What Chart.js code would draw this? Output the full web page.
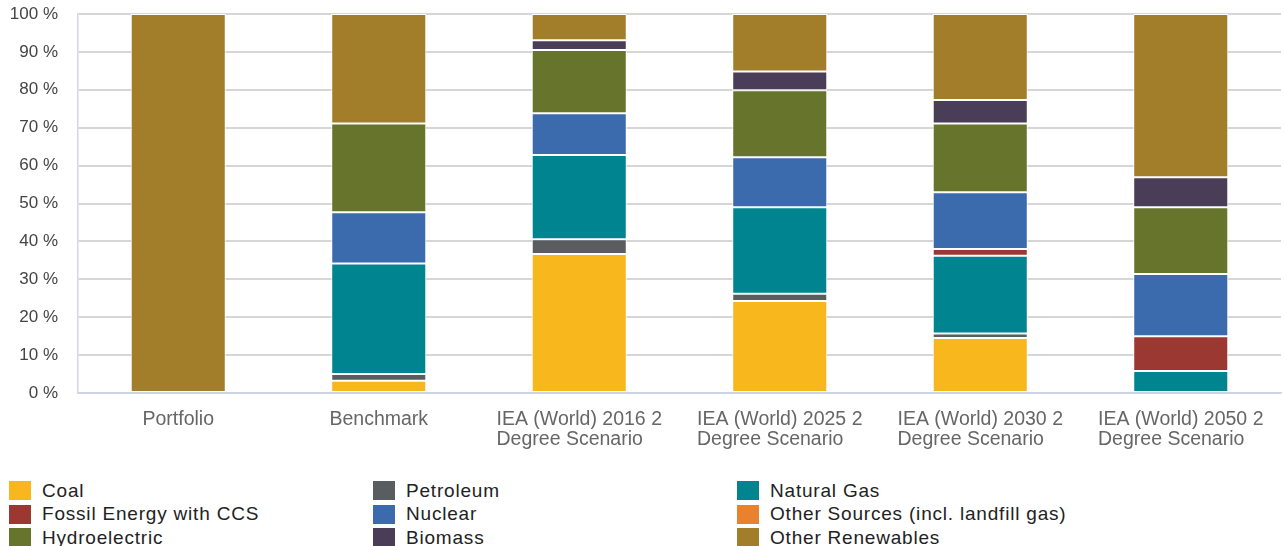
<!DOCTYPE html>
<html>
<head>
<meta charset="utf-8">
<script src="https://cdn.jsdelivr.net/npm/chart.js@4/dist/chart.umd.min.js"></script>
<style>
  html, body { margin: 0; padding: 0; background: #fff; }
  #wrap { position: relative; width: 1284px; height: 546px; overflow: hidden; }
  #chartBox { position: absolute; left: 0; top: 0; width: 1284px; height: 470px; }
  #legend { position: absolute; left: 9px; top: 481px; width: 1275px;
    display: grid; grid-template-columns: 364px 364px 400px; row-gap: 4px;
    font-family: "Liberation Sans", Arial, sans-serif; font-size: 19px; color: #222; letter-spacing: 0.8px; }
  .item { display: flex; align-items: center; height: 19.5px; }
  .sw { width: 22px; height: 19px; margin-right: 11px; flex: none; }
</style>
</head>
<body>
<div id="wrap">
  <div id="chartBox"><canvas id="c"></canvas></div>
  <div id="legend"></div>
</div>
<script>
const categories = ["Portfolio", "Benchmark", ["IEA (World) 2016 2", "Degree Scenario"], ["IEA (World) 2025 2", "Degree Scenario"], ["IEA (World) 2030 2", "Degree Scenario"], ["IEA (World) 2050 2", "Degree Scenario"]];
const yTicks = [0, 10, 20, 30, 40, 50, 60, 70, 80, 90, 100];

const coal            = [0, 3.2, 36.7, 24.3, 14.5, 0];
const petroleum       = [0, 1.8, 3.9, 1.9, 1.2, 0];
const naturalGas      = [0, 29.2, 22.2, 22.8, 20.5, 5.8];
const fossilCCS       = [0, 0, 0, 0, 1.8, 9.2];
const nuclear         = [0, 13.5, 11.0, 13.2, 15.0, 16.4];
const otherSources    = [0, 0, 0, 0, 0, 0];
const hydroelectric   = [0, 23.4, 16.7, 17.7, 18.1, 17.6];
const biomass         = [0, 0, 2.6, 4.9, 6.2, 7.9];
const otherRenewables = [100, 28.9, 6.9, 15.2, 22.7, 43.1];

const seriesNames = ["Coal", "Petroleum", "Natural Gas", "Fossil Energy with CCS", "Nuclear", "Other Sources (incl. landfill gas)", "Hydroelectric", "Biomass", "Other Renewables"];
const seriesData = [coal, petroleum, naturalGas, fossilCCS, nuclear, otherSources, hydroelectric, biomass, otherRenewables];
const seriesColors = ["#F8B71C", "#5A5D5F", "#00848F", "#9B3832", "#3C6BAD", "#E8822F", "#66742C", "#4A3D57", "#A37E2A"];

const datasets = seriesNames.map((name, i) => ({
  label: name,
  data: seriesData[i],
  backgroundColor: seriesColors[i],
  borderColor: "#ffffff",
  borderWidth: 1,
  borderSkipped: false,
  categoryPercentage: 1.0,
  barPercentage: 0.474
}));

const FONT = "'Liberation Sans', Arial, sans-serif";

// Draw x-axis category labels: block centred on the category, lines left-aligned
const xLabelPlugin = {
  id: "xLabels",
  afterDraw(chart) {
    const ctx = chart.ctx;
    const xs = chart.scales.x;
    ctx.save();
    ctx.font = "19.5px " + FONT;
    ctx.fillStyle = "#666";
    ctx.textBaseline = "alphabetic";
    ctx.textAlign = "left";
    const base = chart.chartArea.bottom + 32;
    const lh = 19.5;
    categories.forEach((cat, i) => {
      const lines = Array.isArray(cat) ? cat : [cat];
      const w = Math.max(...lines.map(l => ctx.measureText(l).width));
      const cx = xs.getPixelForValue(i);
      lines.forEach((l, j) => ctx.fillText(l, cx - w / 2, base + j * lh));
    });
    ctx.restore();
  }
};

new Chart(document.getElementById("c"), {
  type: "bar",
  data: { labels: categories, datasets: datasets },
  plugins: [xLabelPlugin],
  options: {
    responsive: true,
    maintainAspectRatio: false,
    animation: false,
    layout: { padding: { top: 14, right: 3, left: 0, bottom: 0 } },
    plugins: { legend: { display: false }, tooltip: { enabled: false } },
    scales: {
      x: {
        stacked: true,
        grid: { display: false, drawTicks: false },
        border: { display: true, color: "#c9d3e6", width: 1.5 },
        ticks: { display: false },
        afterFit: (s) => { s.height = 77; s.paddingLeft = 0; s.paddingRight = 0; }
      },
      y: {
        stacked: true,
        min: 0,
        max: 100,
        afterBuildTicks: (s) => { s.ticks = yTicks.map(v => ({ value: v })); },
        grid: { color: "#d6d6d6", lineWidth: 2, drawTicks: false },
        border: { display: true, color: "#d3d8e3", width: 1.5 },
        ticks: {
          color: "#444",
          font: { family: FONT, size: 17 },
          padding: 20,
          callback: (v) => v + " %"
        },
        afterFit: (s) => { s.width = 78; s.paddingTop = 0; s.paddingBottom = 0; }
      }
    }
  }
});

const legend = document.getElementById("legend");
seriesNames.forEach((name, i) => {
  const d = document.createElement("div");
  d.className = "item";
  const sw = document.createElement("span");
  sw.className = "sw";
  sw.style.background = seriesColors[i];
  const t = document.createElement("span");
  t.textContent = name;
  d.appendChild(sw);
  d.appendChild(t);
  legend.appendChild(d);
});
</script>
</body>
</html>
